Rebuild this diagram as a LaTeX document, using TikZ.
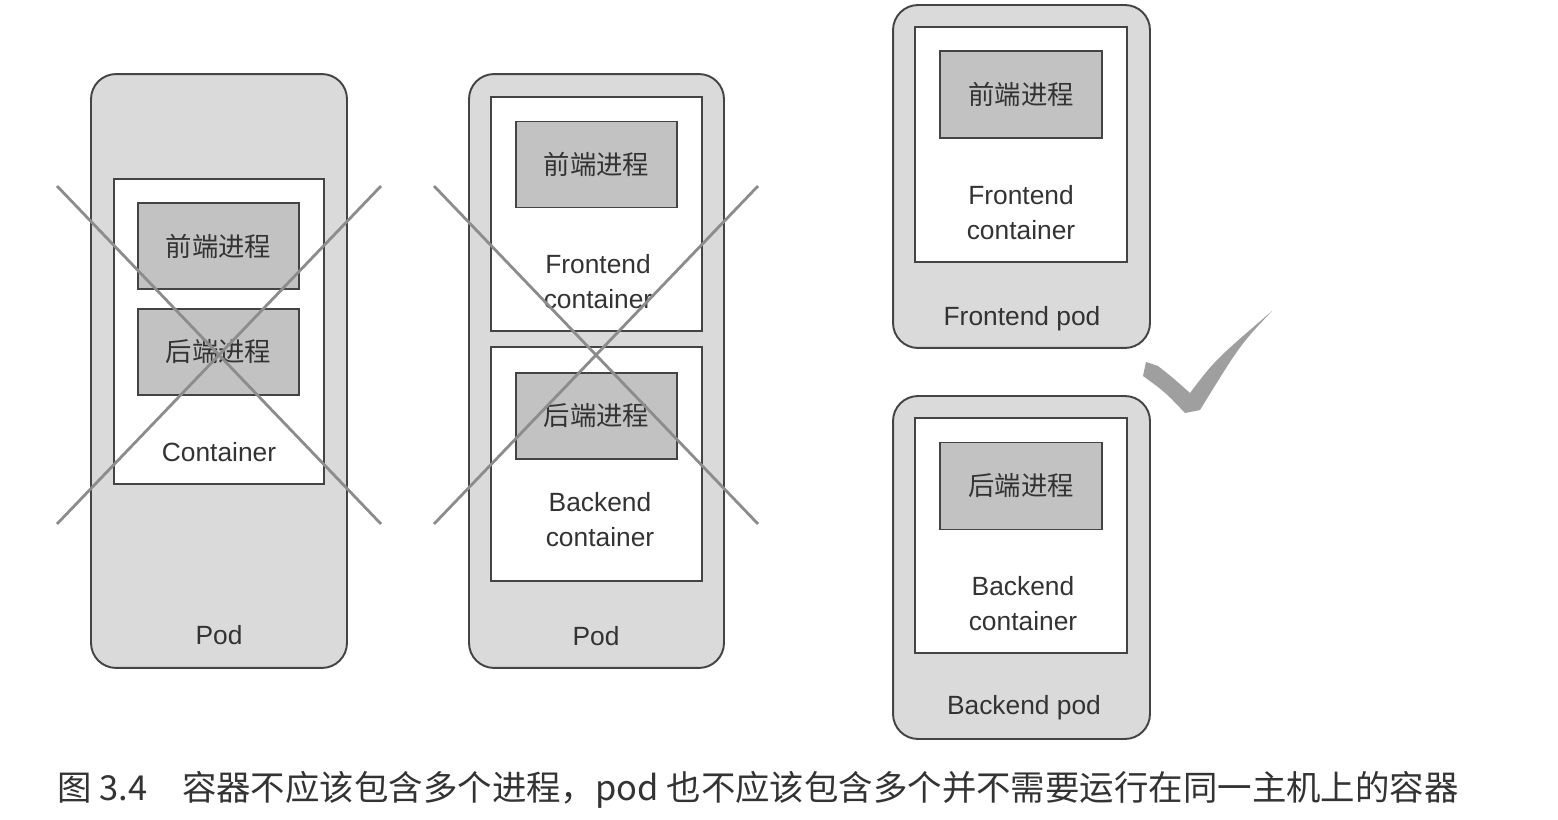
\documentclass[tikz,border=0pt]{standalone}
\usepackage{fontspec}
\setmainfont{Liberation Sans}
\newfontfamily\cjk{Noto Sans CJK SC}
\usepackage{tikz}
\usetikzlibrary{positioning}
\usepackage{xcolor}
\definecolor{podgray}{HTML}{DADADA}
\definecolor{procgray}{HTML}{C2C2C2}
\definecolor{linegray}{HTML}{444444}
\definecolor{crossgray}{HTML}{8C8C8C}
\definecolor{textgray}{HTML}{333333}

\begin{document}
\begin{tikzpicture}[x=0.02cm,y=-0.02cm,thick,
        pod node/.style={rectangle,draw=linegray,fill=podgray,rounded corners=0.5cm,line width=1.1pt,inner sep=0pt},
        box node/.style={rectangle,draw=linegray,fill=white,line width=1pt,inner sep=0pt},
        proc node/.style={rectangle,draw=linegray,fill=procgray,line width=1pt,inner sep=0pt,
            minimum width=3.22cm,minimum height=1.72cm,text=textgray,font=\cjk\fontsize{15}{18}\selectfont},
        label node/.style={text=textgray,align=center,inner sep=0pt,font=\fontsize{15}{20}\selectfont},
        cross/.style={draw=crossgray,line width=1.6pt}]

    \useasboundingbox (0,0) rectangle (1558,820);

    % one pod, one container, two processes
    \node[pod node,minimum width=5.12cm,minimum height=11.88cm] (1) at (219,371) {};
    \node[box node,minimum width=4.2cm,minimum height=6.1cm] (2) at (219,331.5) {};
    \node[proc node] (3) at (218.5,246) {前端进程};
    \node[proc node] (4) at (218.5,352) {后端进程};
    \node[label node] (5) at (219,452) {Container};
    \node[label node] (6) at (219,635) {Pod};
    \draw[cross] (57,186) -- (381,524);
    \draw[cross] (57,524) -- (381,186);

    % one pod, two containers
    \node[pod node,minimum width=5.1cm,minimum height=11.88cm] (7) at (596.5,371) {};
    \node[box node,minimum width=4.22cm,minimum height=4.68cm] (8) at (596.5,214) {};
    \node[box node,minimum width=4.22cm,minimum height=4.68cm] (9) at (596.5,464) {};
    \node[proc node] (10) at (596.5,164.5) {前端进程};
    \node[proc node] (11) at (596.5,416) {后端进程};
    \node[label node] (12) at (598,282) {Frontend\\container};
    \node[label node] (13) at (600,520) {Backend\\container};
    \node[label node] (14) at (596,636) {Pod};
    \draw[cross] (434,186) -- (758,524);
    \draw[cross] (434,524) -- (758,186);

    % two pods
    \node[pod node,minimum width=5.14cm,minimum height=6.86cm] (15) at (1021.5,176.5) {};
    \node[box node,minimum width=4.24cm,minimum height=4.7cm] (16) at (1021,144.5) {};
    \node[proc node,minimum width=3.24cm,minimum height=1.74cm] (17) at (1021,94.5) {前端进程};
    \node[label node] (18) at (1021,213) {Frontend\\container};
    \node[label node] (19) at (1022,319) {Frontend pod};

    \node[pod node,minimum width=5.14cm,minimum height=6.86cm] (20) at (1021.5,567.5) {};
    \node[box node,minimum width=4.24cm,minimum height=4.7cm] (21) at (1021,535.5) {};
    \node[proc node,minimum width=3.24cm,minimum height=1.74cm] (22) at (1021,486) {后端进程};
    \node[label node] (23) at (1023,604) {Backend\\container};
    \node[label node] (24) at (1024,708) {Backend pod};

    % check mark
    \fill[gray!75] (1146,362) -- (1158,366) .. controls (1172,377) .. (1190,393)
        .. controls (1215,360) .. (1272,311) .. controls (1240,345) .. (1200,410)
        -- (1185,413) .. controls (1165,392) .. (1143,376) -- cycle;

    \node[anchor=west,text=textgray,inner sep=0pt,font=\cjk\fontsize{19.6}{24}\selectfont] (25) at (57,790)
        {图 3.4\quad 容器不应该包含多个进程，pod 也不应该包含多个并不需要运行在同一主机上的容器};

\end{tikzpicture}
\end{document}
